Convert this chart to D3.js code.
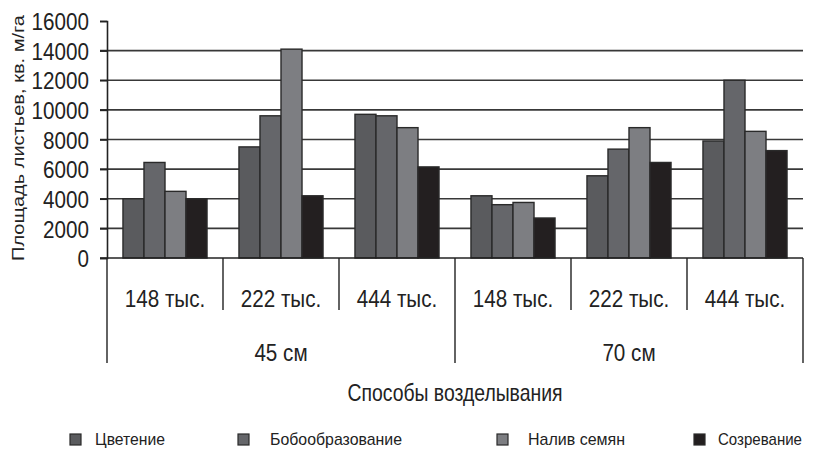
<!DOCTYPE html>
<html>
<head>
<meta charset="utf-8">
<script src="https://cdn.jsdelivr.net/npm/d3@7"></script>
<style>
  html, body { margin: 0; padding: 0; background: #fff; }
  svg text { font-family: "Liberation Sans", Arial, sans-serif; fill: #222; }
</style>
</head>
<body>
<svg id="chart" width="816" height="451"></svg>
<script>
// Row spacing (outer level) and planting density (inner level)
const spacings = ["45 см", "70 см"];
const densities = ["148 тыс.", "222 тыс.", "444 тыс."];
// Growth phases
const phases = ["Цветение", "Бобообразование", "Налив семян", "Созревание"];
// Leaf area per phase, in group order 45/148, 45/222, 45/444, 70/148, 70/222, 70/444
const tsvetenie       = [4000, 7500, 9700, 4200, 5550, 7900];
const boboobrazovanie = [6450, 9600, 9600, 3600, 7350, 12000];
const naliv           = [4500, 14100, 8800, 3750, 8800, 8550];
const sozrevanie      = [4000, 4200, 6150, 2700, 6450, 7250];
const yTicks = [0, 2000, 4000, 6000, 8000, 10000, 12000, 14000, 16000];

const seriesValues = [tsvetenie, boboobrazovanie, naliv, sozrevanie];
const colors = ["#5a5b5e", "#65666a", "#7d7e82", "#231f20"];

const groups = [];
spacings.forEach(s => densities.forEach(d => groups.push({ key: s + "|" + d, spacing: s, density: d })));

const svg = d3.select("#chart");
const plotL = 107, plotR = 803, plotT = 21, plotB = 258;

const x0 = d3.scaleBand().domain(groups.map(g => g.key)).range([plotL, plotR]).padding(0);
const x1 = d3.scaleBand().domain(phases).range([0, x0.bandwidth()]).paddingInner(0).paddingOuter(0.76);
const y = d3.scaleLinear().domain([0, 16000]).range([plotB, plotT]);

// horizontally condensed lettering
function squeeze(sel, k) {
  sel.each(function () {
    const w = this.getComputedTextLength();
    d3.select(this).attr("textLength", w * k).attr("lengthAdjust", "spacingAndGlyphs");
  });
}
function fit(sel, w) {
  sel.attr("textLength", w).attr("lengthAdjust", "spacingAndGlyphs");
}

// gridlines
svg.append("g").selectAll("line")
  .data(yTicks.filter(t => t > 0 && t < 16000))
  .join("line")
  .attr("x1", plotL - 7).attr("x2", plotR)
  .attr("y1", d => y(d)).attr("y2", d => y(d))
  .attr("stroke", "#383838").attr("stroke-width", 1.7);

// y axis
const yAxis = svg.append("g").attr("transform", `translate(${plotL},0)`)
  .call(d3.axisLeft(y).tickValues(yTicks).tickSize(7).tickPadding(11).tickFormat(d3.format("d")));
yAxis.select(".domain").attr("stroke", "#222").attr("stroke-width", 1.6);
yAxis.selectAll(".tick line").attr("stroke", "#222").attr("stroke-width", 1.6);
yAxis.selectAll("text").attr("font-size", 24).attr("fill", "#222").attr("font-family", null).attr("dy", "0.36em");
yAxis.selectAll("text").call(squeeze, 0.86);

// bars
const gBars = svg.append("g");
groups.forEach((g, gi) => {
  gBars.append("g")
    .attr("transform", `translate(${x0(g.key)},0)`)
    .selectAll("rect")
    .data(phases.map((p, pi) => ({ phase: p, value: seriesValues[pi][gi], color: colors[pi] })))
    .join("rect")
    .attr("x", d => x1(d.phase))
    .attr("width", x1.bandwidth())
    .attr("y", d => y(d.value))
    .attr("height", d => y(0) - y(d.value))
    .attr("fill", d => d.color)
    .attr("stroke", "#2a2a2a")
    .attr("stroke-width", 1.4);
});

// x axis baseline
svg.append("line")
  .attr("x1", plotL - 7).attr("x2", plotR)
  .attr("y1", plotB).attr("y2", plotB)
  .attr("stroke", "#222").attr("stroke-width", 1.6);

// category dividers: short between densities, long between spacings
const xa = svg.append("g");
groups.forEach((g, i) => {
  const xs = x0(g.key);
  const long = i % densities.length === 0;
  xa.append("line").attr("x1", xs).attr("x2", xs).attr("y1", plotB).attr("y2", long ? 363 : 310)
    .attr("stroke", "#222").attr("stroke-width", 1.4);
});
xa.append("line").attr("x1", plotR).attr("x2", plotR).attr("y1", plotB).attr("y2", 363)
  .attr("stroke", "#222").attr("stroke-width", 1.4);

// density labels
xa.selectAll("text.dens").data(groups).join("text")
  .attr("class", "dens")
  .attr("x", d => x0(d.key) + x0.bandwidth() / 2)
  .attr("y", 307)
  .attr("text-anchor", "middle")
  .attr("font-size", 24)
  .text(d => d.density)
  .call(squeeze, 0.86);

// spacing labels
xa.selectAll("text.sp").data(spacings).join("text")
  .attr("class", "sp")
  .attr("x", s => {
    const ks = groups.filter(g => g.spacing === s).map(g => g.key);
    return (x0(ks[0]) + x0(ks[ks.length - 1]) + x0.bandwidth()) / 2;
  })
  .attr("y", 361)
  .attr("text-anchor", "middle")
  .attr("font-size", 24)
  .text(s => s)
  .call(squeeze, 0.86);

// axis titles
svg.append("text")
  .attr("x", (plotL + plotR) / 2).attr("y", 401)
  .attr("text-anchor", "middle").attr("font-size", 24)
  .text("Способы возделывания")
  .call(fit, 215);

svg.append("text")
  .attr("transform", "translate(24,138) rotate(-90)")
  .attr("text-anchor", "middle").attr("font-size", 17)
  .text("Площадь листьев, кв. м/га")
  .call(fit, 246);

// legend: swatch, then label right-aligned to its end point
const legendX = [70, 238, 497, 694];
const legendTextEnd = [165, 402, 625, 802];
const legendW = [70, 132, 97, 84];
const lg = svg.append("g");
phases.forEach((p, i) => {
  lg.append("rect")
    .attr("x", legendX[i]).attr("y", 434).attr("width", 11).attr("height", 11)
    .attr("fill", colors[i]).attr("stroke", "#2a2a2a").attr("stroke-width", 1.2);
  lg.append("text")
    .attr("x", legendTextEnd[i]).attr("y", 445)
    .attr("text-anchor", "end")
    .attr("font-size", 17)
    .text(p)
    .call(fit, legendW[i]);
});
</script>
</body>
</html>
